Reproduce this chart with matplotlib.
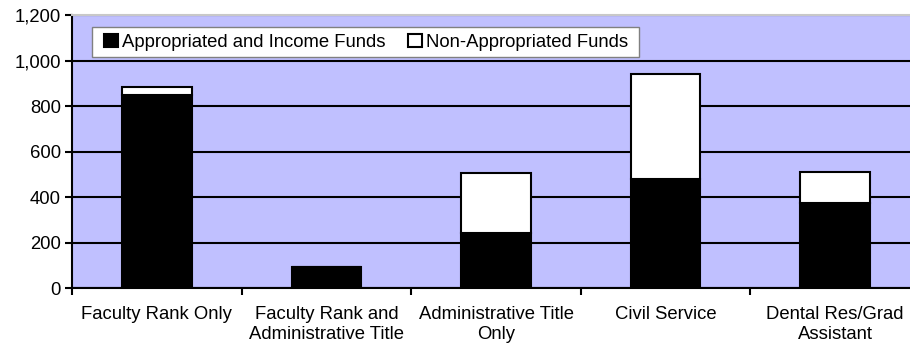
import matplotlib
matplotlib.use("Agg")
import matplotlib.pyplot as plt
import numpy as np
from matplotlib.ticker import FuncFormatter, FixedLocator
from matplotlib.patches import Rectangle

categories = ["Faculty Rank Only", "Faculty Rank and\nAdministrative Title",
              "Administrative Title\nOnly", "Civil Service", "Dental Res/Grad\nAssistant"]
appropriated = [850, 95, 244, 478, 375]
non_appropriated = [33, 0, 263, 463, 134]
series_names = ["Appropriated and Income Funds", "Non-Appropriated Funds"]
yticks = [0, 200, 400, 600, 800, 1000, 1200]

plt.rcParams['font.family'] = ['Liberation Sans', 'DejaVu Sans']
fs = 13.3

fig = plt.figure(figsize=(9.1, 3.5), dpi=100)
W, H = 910, 350
left, right, top, bottom = 72, 920, 15, 288.3
ax = fig.add_axes([left / W, (H - bottom) / H, (right - left) / W, (bottom - top) / H])
ax.set_facecolor("#C0C0FF")

x = np.arange(len(categories))
bw = 0.41
ax.set_axisbelow(True)
ax.yaxis.grid(True, color="black", linewidth=1.5)
b1 = ax.bar(x, appropriated, width=bw, color="black", edgecolor="black", linewidth=1.5,
            label=series_names[0], zorder=3)
b2 = ax.bar(x, non_appropriated, width=bw, bottom=appropriated, color="white",
            edgecolor="black", linewidth=1.5, label=series_names[1], zorder=3)

ax.set_xlim(-0.5, len(categories) - 0.5)
ax.set_ylim(0, 1200)
ax.set_yticks(yticks)
ax.yaxis.set_major_formatter(FuncFormatter(lambda v, p: f"{int(v):,}"))
ax.tick_params(axis="y", labelsize=fs, length=5, width=1.5, direction="out", pad=3)

ax.set_xticks(x)
ax.set_xticklabels(categories, fontsize=fs, linespacing=1.2)
ax.tick_params(axis="x", which="major", length=0, pad=13)
ax.xaxis.set_minor_locator(FixedLocator(np.arange(-0.5, len(categories), 1.0)))
ax.tick_params(axis="x", which="minor", length=5, width=1.5, direction="out")

ax.spines["left"].set_linewidth(1.5)
ax.spines["bottom"].set_linewidth(1.5)
ax.spines["top"].set_color("#C8C8C8")
ax.spines["top"].set_linewidth(1.5)
ax.spines["right"].set_visible(False)

# legend frame (pixel layout)
lx0, lx1, ly0, ly1 = 92, 639, 27, 57
fig.patches.append(Rectangle((lx0 / W, 1 - ly1 / H), (lx1 - lx0) / W, (ly1 - ly0) / H,
                             transform=fig.transFigure, facecolor="white",
                             edgecolor="#808080", linewidth=1.0, zorder=5))
leg = fig.legend(handles=[b1, b2], loc="center left",
                 bbox_to_anchor=(104 / W, 1 - 42.5 / H), bbox_transform=fig.transFigure,
                 ncol=2, fontsize=fs, frameon=False, handlelength=0.75,
                 handleheight=0.75, handletextpad=0.2, columnspacing=1.25, borderpad=0,
                 borderaxespad=0)
leg.set_zorder(6)

fig.savefig("out.png", dpi=100)
